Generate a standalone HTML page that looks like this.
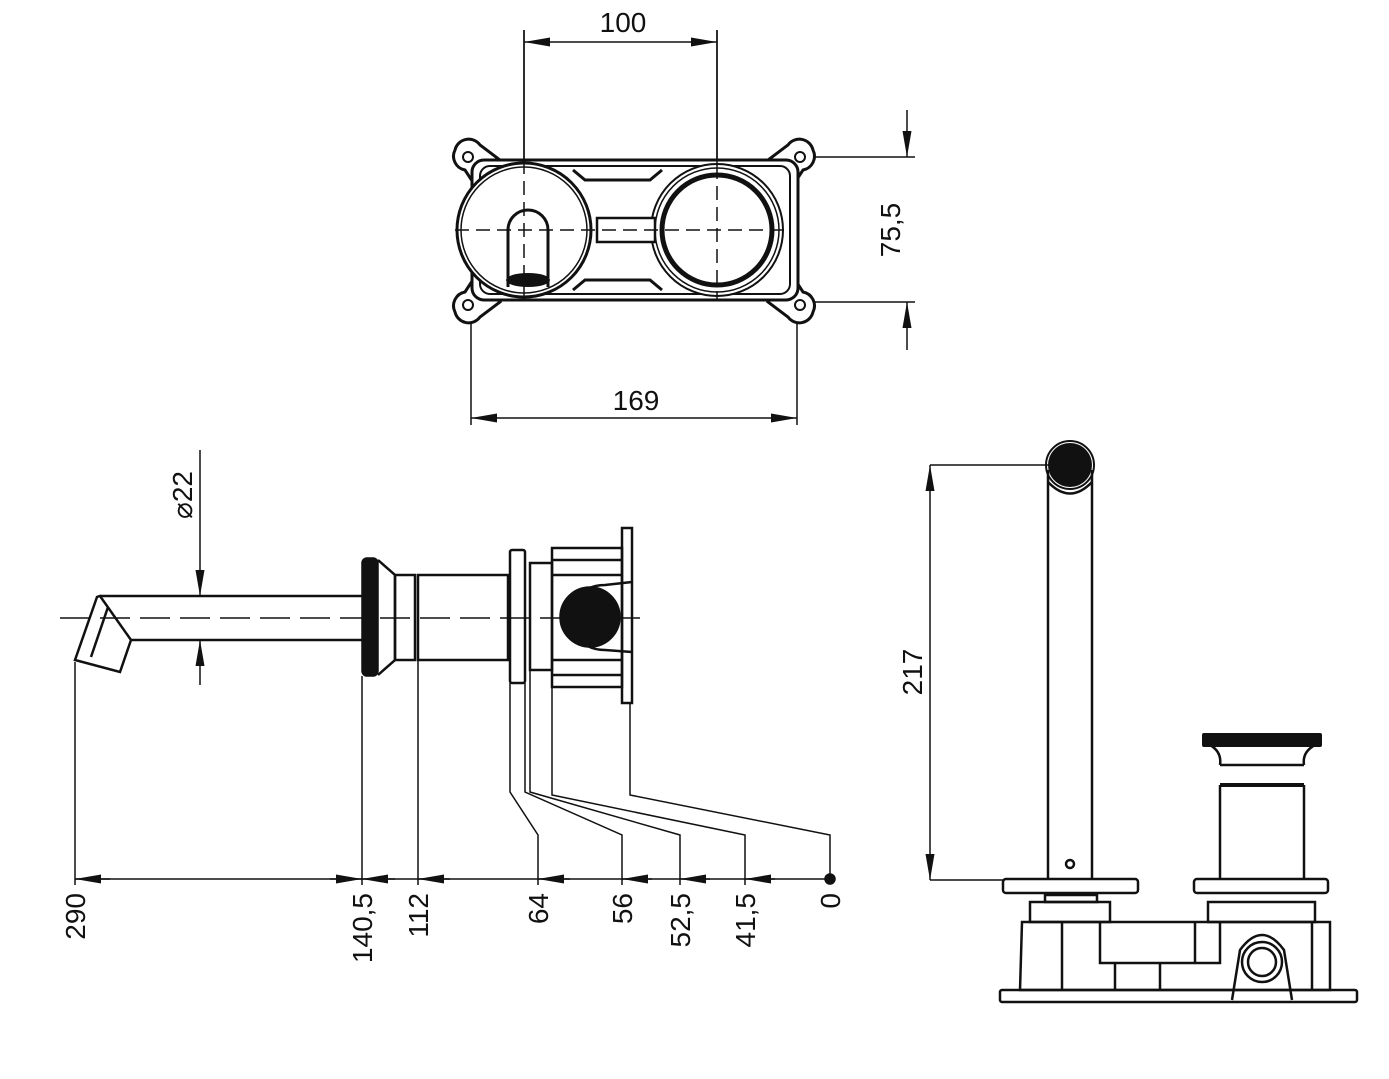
<!DOCTYPE html>
<html><head><meta charset="utf-8"><style>body{margin:0;background:#fff}svg{display:block}text{font-family:"Liberation Sans",sans-serif;font-size:28px;fill:#111}</style></head>
<body>
<svg width="1389" height="1079" viewBox="0 0 1389 1079" xmlns="http://www.w3.org/2000/svg">
<defs>
<marker id="a" viewBox="0 0 10 10" refX="10" refY="5" markerWidth="26" markerHeight="9" orient="auto-start-reverse" markerUnits="userSpaceOnUse" preserveAspectRatio="none"><path d="M0,0 L10,5 L0,10 z" fill="#111"/></marker>
</defs>
<g stroke="#111" fill="none" stroke-width="1.5">
<!-- TOP VIEW -->
<line x1="524" y1="30" x2="524" y2="300"/><line x1="717" y1="30" x2="717" y2="300"/>
<line x1="524" y1="42" x2="717" y2="42" marker-start="url(#a)" marker-end="url(#a)"/>
<line x1="800" y1="157" x2="915" y2="157"/><line x1="800" y1="302" x2="915" y2="302"/>
<line x1="907" y1="110" x2="907" y2="157" marker-end="url(#a)"/><line x1="907" y1="350" x2="907" y2="302" marker-end="url(#a)"/>
<line x1="471" y1="305" x2="471" y2="425"/><line x1="797" y1="305" x2="797" y2="425"/>
<line x1="471" y1="418" x2="797" y2="418" marker-start="url(#a)" marker-end="url(#a)"/>
<g stroke-width="3">
<path d="M455,150 A14,14 0 0 1 480,145 L500,160 L478,190 L465,170 A14,14 0 0 1 455,150 Z" fill="#fff"/>
<path d="M813,150 A14,14 0 0 0 788,145 L768,160 L790,190 L803,170 A14,14 0 0 0 813,150 Z" fill="#fff"/>
<path d="M455,312 A14,14 0 0 0 480,317 L500,302 L478,272 L465,292 A14,14 0 0 0 455,312 Z" fill="#fff"/>
<path d="M813,312 A14,14 0 0 1 788,317 L768,302 L790,272 L803,292 A14,14 0 0 1 813,312 Z" fill="#fff"/>
<rect x="472" y="160" width="326" height="140" rx="12" fill="#fff"/>
<rect x="480" y="166" width="310" height="128" rx="10" stroke-width="2"/>
<circle cx="468" cy="157" r="5" stroke-width="2"/>
<circle cx="800" cy="157" r="5" stroke-width="2"/>
<circle cx="468" cy="305" r="5" stroke-width="2"/>
<circle cx="800" cy="305" r="5" stroke-width="2"/>
<circle cx="524" cy="230" r="67" fill="#fff"/><circle cx="524" cy="230" r="63" stroke-width="1.5"/>
<circle cx="717" cy="230" r="66" fill="#fff" stroke-width="2"/><circle cx="717" cy="230" r="62" stroke-width="1.5"/><circle cx="717" cy="230" r="55" stroke-width="5"/>
<rect x="597" y="218" width="58" height="24" fill="#fff" stroke-width="2.5"/>
<path d="M508,287 L508,230 A16,16 0 0 1 548,230 L548,287"/>
<path d="M573,170 L585,180 L650,180 L662,170"/><path d="M573,290 L585,280 L650,280 L662,290"/>
</g>
<line x1="524" y1="30" x2="524" y2="160"/><line x1="717" y1="30" x2="717" y2="165"/>
<ellipse cx="528" cy="280" rx="22" ry="7" fill="#111" stroke="none"/>
<line x1="455" y1="230" x2="790" y2="230" stroke-dasharray="14 7"/>
<line x1="524" y1="160" x2="524" y2="300" stroke-dasharray="14 7"/>
<line x1="717" y1="165" x2="717" y2="300" stroke-dasharray="14 7"/>

<!-- SIDE VIEW -->
<line x1="200" y1="450" x2="200" y2="596" marker-end="url(#a)"/><line x1="200" y1="685" x2="200" y2="640" marker-end="url(#a)"/>
<g stroke-width="2.5">
<path d="M100,596 L362,596 M131,640 L362,640"/>
<path d="M97,597 L75,660 L120,672 L131,640 L100,596 Z" fill="#fff"/>
<path d="M108,607 L91,657"/>
<path d="M378,560 L395,575 L395,660 L378,675"/>
<rect x="395" y="575" width="20" height="85"/>
<rect x="418" y="575" width="90" height="85"/>
<rect x="510" y="550" width="15" height="133" rx="2"/>
<rect x="530" y="563" width="22" height="107"/>
<rect x="552" y="548" width="70" height="139"/>
<rect x="622" y="528" width="10" height="175"/>
<path d="M552,560 L622,560 M552,575 L622,575 M552,660 L622,660 M552,675 L622,675"/>
<path d="M578,600 Q585,585 605,585 L632,582 M578,635 Q585,650 605,650 L632,652"/>
</g>
<rect x="362" y="558" width="16" height="118" rx="5" fill="#111"/>
<circle cx="590" cy="617" r="30" fill="#111"/>
<line x1="60" y1="618" x2="640" y2="618" stroke-dasharray="30 10"/>
<!-- baseline -->
<line x1="75" y1="879" x2="830" y2="879"/>
<circle cx="830" cy="879" r="5" fill="#111"/>
<line x1="75" y1="662" x2="75" y2="885"/><line x1="362" y1="676" x2="362" y2="885"/><line x1="418" y1="660" x2="418" y2="885"/>
<polyline points="510,683 510,792 538,835 538,885"/>
<polyline points="525,683 525,792 622,835 622,885"/>
<polyline points="530,670 530,792 680,835 680,885"/>
<polyline points="552,687 552,795 745,835 745,885"/>
<polyline points="630,703 630,795 830,835 830,879"/>
<g>
<line x1="110" y1="879" x2="75" y2="879" marker-end="url(#a)"/>
<line x1="330" y1="879" x2="362" y2="879" marker-end="url(#a)"/>
<line x1="395" y1="879" x2="362" y2="879" marker-end="url(#a)"/>
<line x1="450" y1="879" x2="418" y2="879" marker-end="url(#a)"/>
<line x1="570" y1="879" x2="538" y2="879" marker-end="url(#a)"/>
<line x1="652" y1="879" x2="622" y2="879" marker-end="url(#a)"/>
<line x1="710" y1="879" x2="680" y2="879" marker-end="url(#a)"/>
<line x1="775" y1="879" x2="745" y2="879" marker-end="url(#a)"/>
</g>

<!-- RIGHT VIEW -->
<line x1="930" y1="465" x2="1060" y2="465"/><line x1="930" y1="880" x2="1005" y2="880"/>
<line x1="930" y1="465" x2="930" y2="880" marker-start="url(#a)" marker-end="url(#a)"/>
<g stroke-width="2.5">
<path d="M1048,470 L1048,879 M1092,470 L1092,879"/>
<path d="M1048,482 Q1070,505 1092,482"/>
<circle cx="1070" cy="864" r="4"/>
<rect x="1003" y="879" width="135" height="14" rx="3"/>
<rect x="1194" y="879" width="134" height="14" rx="3"/>
<path d="M1220,879 L1220,785 M1304,879 L1304,785 M1220,785 L1304,785 M1220,765 L1304,765"/>
<path d="M1210,745 Q1222,752 1220,765 M1315,745 Q1302,752 1304,765"/>
<rect x="1045" y="895" width="52" height="7"/>
<rect x="1030" y="902" width="80" height="20"/>
<rect x="1208" y="902" width="107" height="20"/>
<path d="M1030,922 L1330,922 L1330,990 L1020,990 L1022,922 Z"/>
<rect x="1000" y="990" width="357" height="12" rx="2"/>
<path d="M1062,922 L1062,990 M1100,922 L1100,963 L1220,963 L1220,922 M1115,963 L1115,990 M1160,963 L1160,990 M1195,922 L1195,963 M1312,922 L1312,990"/>
<path d="M1232,1000 L1240,950 Q1262,920 1284,950 L1292,1000"/>
<circle cx="1262" cy="962" r="20"/><circle cx="1262" cy="962" r="14"/>
</g>
<path d="M1204,735 L1320,735 L1320,745 L1204,745 Z" fill="#111" stroke-linejoin="round" stroke-width="4"/>
<line x1="1220" y1="785" x2="1304" y2="785" stroke-width="4"/>
<circle cx="1070" cy="465" r="22" fill="#111" stroke="none"/>
<circle cx="1070" cy="465" r="24" stroke-width="2"/>
</g>
<!-- Text -->
<text x="623" y="32" text-anchor="middle">100</text>
<text x="636" y="410" text-anchor="middle">169</text>
<text transform="translate(900,230) rotate(-90)" text-anchor="middle">75,5</text>
<text transform="translate(192,495) rotate(-90)" text-anchor="middle">⌀22</text>
<text transform="translate(922,672) rotate(-90)" text-anchor="middle">217</text>
<g text-anchor="end">
<text transform="translate(85,893) rotate(-90)">290</text>
<text transform="translate(372,893) rotate(-90)">140,5</text>
<text transform="translate(428,893) rotate(-90)">112</text>
<text transform="translate(548,893) rotate(-90)">64</text>
<text transform="translate(632,893) rotate(-90)">56</text>
<text transform="translate(690,893) rotate(-90)">52,5</text>
<text transform="translate(755,893) rotate(-90)">41,5</text>
<text transform="translate(840,893) rotate(-90)">0</text>
</g>
</svg>
</body></html>
